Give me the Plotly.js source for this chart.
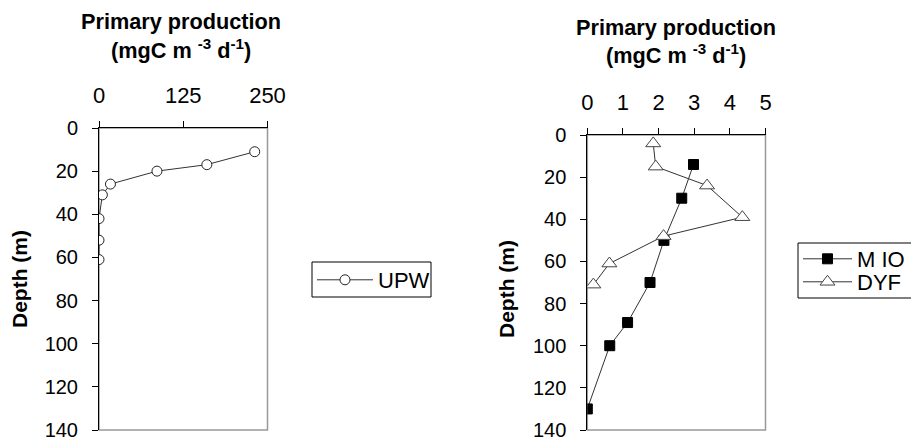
<!DOCTYPE html>
<html>
<head>
<meta charset="utf-8">
<script src="https://cdn.plot.ly/plotly-3.0.1.min.js"></script>
<style>html,body{margin:0;padding:0;background:#fff;}#chart{width:911px;height:437px;}</style>
</head>
<body>
<div id="chart"></div>
<script>
// UPW station
const upwDepth = [11, 17, 20, 26, 31, 42, 52, 61];
const upwPP = [231, 160, 86, 17, 5, 0, 0, 0];
// M IO station
const mioDepth = [14, 30, 50, 70, 89, 100, 130];
const mioPP = [2.98, 2.65, 2.15, 1.76, 1.13, 0.63, 0];
// DYF station
const dyfDepth = [4, 15, 24, 39, 48, 61, 71];
const dyfPP = [1.85, 1.92, 3.36, 4.35, 2.14, 0.62, 0.17];

const leftTicks = [0, 125, 250];
const rightTicks = [0, 1, 2, 3, 4, 5];
const depthTicks = [0, 20, 40, 60, 80, 100, 120, 140];

const W = 911, H = 437;
const px = v => v / W;
const py = v => 1 - v / H;
const FONT = 'Liberation Sans, Arial, sans-serif';

const traces = [
  {x: upwPP, y: upwDepth, xaxis: 'x', yaxis: 'y', name: 'UPW', mode: 'lines+markers',
   line: {color: '#333', width: 1},
   marker: {symbol: 'circle', size: 10, color: '#fff', line: {color: '#222', width: 1}},
   legend: 'legend'},
  {x: mioPP, y: mioDepth, xaxis: 'x2', yaxis: 'y2', name: 'M IO', mode: 'lines+markers',
   line: {color: '#333', width: 1},
   marker: {symbol: 'square', size: 10, color: '#000', line: {color: '#000', width: 1}},
   legend: 'legend2'},
  {x: dyfPP, y: dyfDepth, xaxis: 'x2', yaxis: 'y2', name: 'DYF', mode: 'lines+markers',
   line: {color: '#333', width: 1},
   marker: {symbol: 'triangle-up', size: 13, color: '#fff', line: {color: '#444', width: 1}},
   legend: 'legend3'}
];

const xCommon = {side: 'top', showgrid: false, zeroline: false, showline: true, linecolor: '#000', linewidth: 1,
  ticks: 'outside', ticklen: 6, tickwidth: 1, tickcolor: '#000', ticklabelstandoff: 9,
  ticklabeloverflow: 'allow',
  tickfont: {family: FONT, size: 22, color: '#000'}, fixedrange: true};
const yCommon = {autorange: false, range: [140, 0], tickmode: 'array', tickvals: depthTicks,
  showgrid: false, zeroline: false, showline: true, linecolor: '#000', linewidth: 1,
  ticks: 'outside', ticklen: 6, tickwidth: 1, tickcolor: '#000', ticklabelstandoff: 10,
  ticklabeloverflow: 'allow',
  tickfont: {family: FONT, size: 20, color: '#000'}, fixedrange: true};

const L = {x0: 99, x1: 267.5, y0: 128, y1: 430};
const R = {x0: 587.3, x1: 765.5, y0: 135, y1: 430};

const legBase = {xanchor: 'left', yanchor: 'middle', bgcolor: 'rgba(0,0,0,0)', borderwidth: 0,
  font: {family: FONT, size: 22, color: '#000'}};

const layout = {
  width: W, height: H,
  margin: {l: 0, r: 0, t: 0, b: 0},
  paper_bgcolor: '#fff', plot_bgcolor: '#fff',
  font: {family: FONT, color: '#000'},
  xaxis: Object.assign({}, xCommon, {domain: [px(L.x0), px(L.x1)], range: [0, 250], tickmode: 'array', tickvals: leftTicks, anchor: 'y'}),
  yaxis: Object.assign({}, yCommon, {domain: [py(L.y1), py(L.y0)], anchor: 'x'}),
  xaxis2: Object.assign({}, xCommon, {domain: [px(R.x0), px(R.x1)], range: [0, 5], tickmode: 'array', tickvals: rightTicks, anchor: 'y2'}),
  yaxis2: Object.assign({}, yCommon, {domain: [py(R.y1), py(R.y0)], anchor: 'x2'}),
  legend: Object.assign({}, legBase, {x: px(312), y: py(280), itemwidth: 56}),
  legend2: Object.assign({}, legBase, {x: px(798), y: py(259), itemwidth: 49}),
  legend3: Object.assign({}, legBase, {x: px(798), y: py(282), itemwidth: 49}),
  shapes: [
    {type: 'rect', xref: 'paper', yref: 'paper', x0: px(L.x0), x1: px(L.x1), y0: py(L.y1), y1: py(L.y0),
     line: {color: '#999', width: 1.5}, layer: 'below'},
    {type: 'rect', xref: 'paper', yref: 'paper', x0: px(R.x0), x1: px(R.x1), y0: py(R.y1), y1: py(R.y0),
     line: {color: '#999', width: 1.5}, layer: 'below'},
    {type: 'rect', xref: 'paper', yref: 'paper', x0: px(312), x1: px(431), y0: py(297), y1: py(262),
     line: {color: '#000', width: 1}, layer: 'below'},
    {type: 'rect', xref: 'paper', yref: 'paper', x0: px(798), x1: px(925), y0: py(298), y1: py(243),
     line: {color: '#000', width: 1}, layer: 'below'}
  ],
  annotations: [
    {text: '<b>Primary production</b>', xref: 'paper', yref: 'paper', x: px(181), y: py(22), xanchor: 'center', yanchor: 'middle', showarrow: false, font: {family: FONT, size: 21.7}},
    {text: '<b>(mgC m <sup>-3</sup> d<sup>-1</sup>)</b>', xref: 'paper', yref: 'paper', x: px(181), y: py(49), xanchor: 'center', yanchor: 'middle', showarrow: false, font: {family: FONT, size: 21.7}},
    {text: '<b>Primary production</b>', xref: 'paper', yref: 'paper', x: px(676), y: py(27), xanchor: 'center', yanchor: 'middle', showarrow: false, font: {family: FONT, size: 21.7}},
    {text: '<b>(mgC m <sup>-3</sup> d<sup>-1</sup>)</b>', xref: 'paper', yref: 'paper', x: px(676), y: py(54), xanchor: 'center', yanchor: 'middle', showarrow: false, font: {family: FONT, size: 21.7}},
    {text: '<b>Depth (m)</b>', xref: 'paper', yref: 'paper', x: px(19), y: py(279), xanchor: 'center', yanchor: 'middle', textangle: -90, showarrow: false, font: {family: FONT, size: 21}},
    {text: '<b>Depth (m)</b>', xref: 'paper', yref: 'paper', x: px(506), y: py(289), xanchor: 'center', yanchor: 'middle', textangle: -90, showarrow: false, font: {family: FONT, size: 21}}
  ],
  showlegend: true
};

Plotly.newPlot('chart', traces, layout, {displayModeBar: false, staticPlot: true});
</script>
</body>
</html>
